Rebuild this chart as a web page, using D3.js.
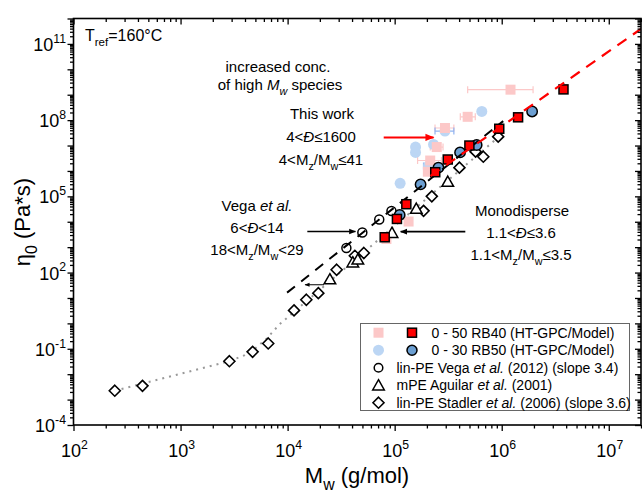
<!DOCTYPE html>
<html><head><meta charset="utf-8">
<script src="https://cdn.jsdelivr.net/npm/d3@7"></script>
<style>body{margin:0;background:#fff}svg{display:block}text{font-family:"Liberation Sans",Arial,sans-serif;fill:#000}</style>
</head><body>
<script>
// ---------- data (Mw in g/mol, eta0 in Pa*s) ----------
const stadlerMw  = [243, 441, 2858, 4710, 6590, 11480, 14960, 19360, 28710, 42460, 51520, 186200, 222300, 402700, 570200, 673000, 926800];
const stadlerEta = [2.24e-3, 3.47e-3, 0.0324, 0.0759, 0.162, 3.24, 8.51, 15.5, 129, 457, 589, 26900, 1.0e5, 1.35e6, 5.75e6, 3.63e6, 2.24e7];
const stadlerFitMw  = [243, 2858, 3981, 5012, 6310, 8433, 1.0e6];
const stadlerFitEta = [2.24e-3, 0.0324, 0.0562, 0.105, 0.24, 0.933, 2.75e7];

const vegaMw  = [35400, 49890, 71780, 93330];
const vegaEta = [933, 3800, 12300, 26300];
const vegaFitMw  = [9886, 1.033e6];
const vegaFitEta = [16.2, 9.12e7];

const aguilarMw  = [24830, 40640, 45290, 94410, 159200, 313300];
const aguilarEta = [52.5, 245, 316, 3550, 31600, 363000];

const rb40ModelMw  = [80720, 105000, 128500, 239300, 313300, 498900, 948400, 1.422e6, 3.776e6];
const rb40ModelEta = [2455, 12900, 49000, 891000, 2.82e6, 1.0e7, 4.57e7, 1.29e8, 1.62e9];
const rb40FitMw  = [216300, 2.0e7];
const rb40FitEta = [6.31e5, 3.9e11];

const rb50ModelMw  = [111400, 174600, 256400, 408300, 583400, 1.923e6];
const rb50ModelEta = [18600, 295000, 1.35e6, 5.37e6, 1.05e7, 2.19e8];

const rb40GpcMw   = [1.208e6, 480800, 295100, 247200, 214800, 204200, 134900, 83750];
const rb40GpcEta  = [1.58e9, 1.35e8, 4.9e7, 8.71e6, 2.57e6, 9.33e5, 10200, 2090];
const rb40GpcMwLo = [480800, 410200, 238200, 215000, 163700, null, null, null];
const rb40GpcMwHi = [1.963e6, 566200, 357300, 283000, 273500, null, null, null];

const rb50GpcMw   = [651600, 295100, 230700, 156700, 156700, 112500, 207000];
const rb50GpcEta  = [2.19e8, 3.72e7, 1.10e7, 8.7e6, 5.37e6, 324000, 1.58e6];
const rb50GpcMwLo = [null, 238200, null, null, null, null, 186000];
const rb50GpcMwHi = [null, 357300, null, null, null, null, 234000];

const xMajorTicks = [1e2, 1e3, 1e4, 1e5, 1e6, 1e7];
const xTickExp = ["2", "3", "4", "5", "6", "7"];
const yLabelTicks = [1e-4, 1e-1, 1e2, 1e5, 1e8, 1e11];
const yTickExp = ["-4", "-1", "2", "5", "8", "11"];

// annotation arrows [Mw1, Mw2, eta] (from -> to)
const arrowRed   = [79000, 230700, 2.09e7];
const arrowVega  = [15280, 43050, 4120];
const arrowMono  = [457000, 113800, 4070];
const arrowSmall = [21880, 14560, 33.1];

const legendLabels = [
  [["0 - 50 RB40 (HT-GPC/Model)"]],
  [["0 - 30 RB50 (HT-GPC/Model)"]],
  [["lin-PE Vega "], ["et al.", "i"], [" (2012) (slope 3.4)"]],
  [["mPE Aguilar "], ["et al.", "i"], [" (2001)"]],
  [["lin-PE Stadler "], ["et al.", "i"], [" (2006) (slope 3.6)"]]
];

// ---------- drawing ----------
const W = 642, H = 494;
const L = 73.5, R = 641, T = 18.5, B = 425;
const svg = d3.select("body").append("svg").attr("width", W).attr("height", H);
const x = d3.scaleLog().domain([1e2, 2e7]).range([L, R]);
const y = d3.scaleLog().domain([1e-4, 1e12]).range([B, T]);

const LIGHT_RED = "#fcc8c8", LIGHT_BLUE = "#bcd6f4", BLUE = "#6c9fd2";

function rich(sel, parts, size) {
  let cur = 0;
  parts.forEach(p => {
    const t = p[0], st = p[1] || "";
    let target = 0, fs = size;
    if (st.includes("sub")) { target = size * 0.32; fs = size * 0.72; }
    if (st.includes("sup")) { target = -size * 0.45; fs = size * 0.68; }
    const ts = sel.append("tspan").text(t).attr("font-size", fs);
    if (target !== cur) { ts.attr("dy", target - cur); cur = target; }
    if (st.includes("i")) ts.attr("font-style", "italic");
  });
  return sel;
}
function label(xp, yp, parts, size, anchor) {
  const t = svg.append("text").attr("x", xp).attr("y", yp).attr("font-size", size)
    .attr("text-anchor", anchor || "middle");
  return rich(t, parts, size);
}

const clip = svg.append("defs").append("clipPath").attr("id", "c")
  .append("rect").attr("x", L).attr("y", T).attr("width", R - L).attr("height", B - T);
svg.select("defs").append("marker").attr("id", "ah").attr("viewBox", "0 0 10 10")
  .attr("refX", 9).attr("refY", 5).attr("markerWidth", 7).attr("markerHeight", 7)
  .attr("markerUnits", "userSpaceOnUse").attr("orient", "auto")
  .append("path").attr("d", "M0,1L10,5L0,9Z").attr("fill", "#000");
svg.select("defs").append("marker").attr("id", "ahr").attr("viewBox", "0 0 10 10")
  .attr("refX", 9).attr("refY", 5).attr("markerWidth", 12).attr("markerHeight", 9)
  .attr("markerUnits", "userSpaceOnUse").attr("orient", "auto")
  .append("path").attr("d", "M0,1L10,5L0,9Z").attr("fill", "#f00");
svg.select("defs").append("marker").attr("id", "ahs").attr("viewBox", "0 0 10 10")
  .attr("refX", 9).attr("refY", 5).attr("markerWidth", 6).attr("markerHeight", 5)
  .attr("markerUnits", "userSpaceOnUse").attr("orient", "auto")
  .append("path").attr("d", "M0,1L10,5L0,9Z").attr("fill", "#000");

const plot = svg.append("g").attr("clip-path", "url(#c)");
const zip = (a, b) => a.map((v, i) => [v, b[i]]);
const line = d3.line().x(d => x(d[0])).y(d => y(d[1]));

// light (HT-GPC) points with error bars
function errBars(mw, lo, hi, eta, color) {
  mw.forEach((m, i) => {
    if (lo[i] == null) return;
    const yy = y(eta[i]);
    plot.append("line").attr("x1", x(lo[i])).attr("x2", x(hi[i])).attr("y1", yy).attr("y2", yy)
      .attr("stroke", color).attr("stroke-width", 1.2);
    [lo[i], hi[i]].forEach(v => plot.append("line").attr("x1", x(v)).attr("x2", x(v))
      .attr("y1", yy - 3.5).attr("y2", yy + 3.5).attr("stroke", color).attr("stroke-width", 1.2));
  });
}
errBars(rb40GpcMw, rb40GpcMwLo, rb40GpcMwHi, rb40GpcEta, LIGHT_RED);
errBars(rb50GpcMw, rb50GpcMwLo, rb50GpcMwHi, rb50GpcEta, "#8fb3f0");
plot.selectAll(".lb").data(zip(rb50GpcMw, rb50GpcEta)).enter().append("circle")
  .attr("cx", d => x(d[0])).attr("cy", d => y(d[1])).attr("r", 5.5).attr("fill", LIGHT_BLUE);
plot.selectAll(".lr").data(zip(rb40GpcMw, rb40GpcEta)).enter().append("rect")
  .attr("x", d => x(d[0]) - 5).attr("y", d => y(d[1]) - 5).attr("width", 10).attr("height", 10)
  .attr("fill", LIGHT_RED);

// Stadler fit (dotted) and diamonds
plot.append("path").attr("d", line(zip(stadlerFitMw, stadlerFitEta))).attr("fill", "none")
  .attr("stroke", "#999").attr("stroke-width", 2).attr("stroke-dasharray", "2 5");
const diamond = "M0,-5.5L5.5,0L0,5.5L-5.5,0Z";
const tri = "M0,-6L5.8,4.2L-5.8,4.2Z";
plot.selectAll(".di").data(zip(stadlerMw, stadlerEta)).enter().append("path")
  .attr("d", diamond).attr("transform", d => `translate(${x(d[0])},${y(d[1])})`)
  .attr("fill", "#fff").attr("stroke", "#000").attr("stroke-width", 1.6);
plot.selectAll(".tr").data(zip(aguilarMw, aguilarEta)).enter().append("path")
  .attr("d", tri).attr("transform", d => `translate(${x(d[0])},${y(d[1])})`)
  .attr("fill", "#fff").attr("stroke", "#000").attr("stroke-width", 1.5);
plot.selectAll(".vc").data(zip(vegaMw, vegaEta)).enter().append("circle")
  .attr("cx", d => x(d[0])).attr("cy", d => y(d[1])).attr("r", 4.5)
  .attr("fill", "#fff").attr("stroke", "#000").attr("stroke-width", 1.5);
// model points
plot.selectAll(".bc").data(zip(rb50ModelMw, rb50ModelEta)).enter().append("circle")
  .attr("cx", d => x(d[0])).attr("cy", d => y(d[1])).attr("r", 5.2)
  .attr("fill", BLUE).attr("stroke", "#000").attr("stroke-width", 1.5);
plot.append("path").attr("d", line(zip(vegaFitMw, vegaFitEta))).attr("fill", "none")
  .attr("stroke", "#000").attr("stroke-width", 2).attr("stroke-dasharray", "10 8");
plot.selectAll(".rs").data(zip(rb40ModelMw, rb40ModelEta)).enter().append("rect")
  .attr("x", d => x(d[0]) - 4.5).attr("y", d => y(d[1]) - 4.5).attr("width", 9).attr("height", 9)
  .attr("fill", "#f00").attr("stroke", "#000").attr("stroke-width", 1.5);
plot.append("path").attr("d", line(zip(rb40FitMw, rb40FitEta))).attr("fill", "none")
  .attr("stroke", "#f00").attr("stroke-width", 2.2).attr("stroke-dasharray", "11 8");

// arrows
function arrow(a, color, marker, w) {
  svg.append("line").attr("x1", x(a[0])).attr("x2", x(a[1])).attr("y1", y(a[2])).attr("y2", y(a[2]))
    .attr("stroke", color).attr("stroke-width", w).attr("marker-end", `url(#${marker})`);
}
arrow(arrowRed, "#f00", "ahr", 2);
arrow(arrowVega, "#000", "ah", 1.6);
arrow(arrowMono, "#000", "ah", 1.6);
arrow(arrowSmall, "#000", "ahs", 1);

// ---------- axes ----------
const decades = d3.range(-4, 13).map(e => Math.pow(10, e));
const yMinor = [];
d3.range(-4, 12).forEach(e => d3.range(2, 10).forEach(k => yMinor.push(k * Math.pow(10, e))));
const xDec = d3.range(2, 8).map(e => Math.pow(10, e));
const xMinor = [];
d3.range(2, 8).forEach(e => d3.range(2, 10).forEach(k => { const v = k * Math.pow(10, e); if (v <= 2e7) xMinor.push(v); }));

function ax(gen, vals, size, tx, ty) {
  const g = svg.append("g").attr("transform", `translate(${tx},${ty})`)
    .call(gen.tickValues(vals).tickSize(size).tickFormat(""));
  g.select(".domain").remove();
  g.selectAll("line").attr("stroke", "#000").attr("stroke-width", 1.3);
}
ax(d3.axisBottom(x), xDec, 6, 0, B);
ax(d3.axisBottom(x), xMinor, 3.5, 0, B);
ax(d3.axisBottom(x), xDec, 6, 0, T);
ax(d3.axisBottom(x), xMinor, 3.5, 0, T);
ax(d3.axisLeft(y), decades, 6, L, 0);
ax(d3.axisLeft(y), yMinor, 3.5, L, 0);
ax(d3.axisLeft(y), decades, 6, R, 0);
ax(d3.axisLeft(y), yMinor, 3.5, R, 0);
svg.append("rect").attr("x", L).attr("y", T).attr("width", R - L).attr("height", B - T)
  .attr("fill", "none").attr("stroke", "#000").attr("stroke-width", 1.6);

xMajorTicks.forEach((v, i) => label(x(v) + 1, 457, [["10"], [xTickExp[i], "sup"]], 18));
yLabelTicks.forEach((v, i) => label(66, y(v) + 7, [["10"], [yTickExp[i], "sup"]], 18, "end"));

label(357, 483, [["M"], ["w", "sub"], [" (g/mol)"]], 22);
const yt = svg.append("text").attr("transform", "translate(30,222) rotate(-90)")
  .attr("text-anchor", "middle").attr("font-size", 22);
rich(yt, [["η"], ["0", "sub"], [" (Pa*s)"]], 22);

// ---------- annotations ----------
label(85, 41, [["T"], ["ref", "sub"], ["=160°C"]], 16, "start");
label(278, 72, [["increased conc."]], 15);
label(280, 90, [["of high "], ["M", "i"], ["w", "isub"], [" species"]], 15);
label(322, 119, [["This work"]], 15);
label(321, 142, [["4<"], ["Đ", "i"], ["≤1600"]], 15);
label(321, 165, [["4<M"], ["z", "sub"], ["/M"], ["w", "sub"], ["≤41"]], 15);
label(257, 211, [["Vega "], ["et al.", "i"]], 15);
label(257, 233, [["6<"], ["Đ", "i"], ["<14"]], 15);
label(257, 255, [["18<M"], ["z", "sub"], ["/M"], ["w", "sub"], ["<29"]], 15);
label(522, 216, [["Monodisperse"]], 15);
label(521, 238, [["1.1<"], ["Đ", "i"], ["≤3.6"]], 15);
label(521, 260, [["1.1<M"], ["z", "sub"], ["/M"], ["w", "sub"], ["≤3.5"]], 15);

// ---------- legend ----------
const lg = svg.append("g");
lg.append("rect").attr("x", 360.5).attr("y", 323.5).attr("width", 269).attr("height", 87)
  .attr("fill", "#fff").attr("stroke", "#666").attr("stroke-width", 1);
const rowY = [332.7, 350.2, 367.7, 385.2, 402.7];
lg.append("rect").attr("x", 373.5).attr("y", rowY[0] - 5).attr("width", 10).attr("height", 10).attr("fill", LIGHT_RED);
lg.append("rect").attr("x", 407.5).attr("y", rowY[0] - 4.5).attr("width", 9).attr("height", 9)
  .attr("fill", "#f00").attr("stroke", "#000").attr("stroke-width", 1.5);
lg.append("circle").attr("cx", 378.5).attr("cy", rowY[1]).attr("r", 5.5).attr("fill", LIGHT_BLUE);
lg.append("circle").attr("cx", 412).attr("cy", rowY[1]).attr("r", 5).attr("fill", BLUE)
  .attr("stroke", "#000").attr("stroke-width", 1.5);
lg.append("circle").attr("cx", 378.5).attr("cy", rowY[2]).attr("r", 4.3).attr("fill", "#fff")
  .attr("stroke", "#000").attr("stroke-width", 1.5);
lg.append("path").attr("d", tri).attr("transform", `translate(378.5,${rowY[3] + 0.5})`)
  .attr("fill", "#fff").attr("stroke", "#000").attr("stroke-width", 1.5);
lg.append("path").attr("d", diamond).attr("transform", `translate(378.5,${rowY[4]})`)
  .attr("fill", "#fff").attr("stroke", "#000").attr("stroke-width", 1.6);
legendLabels.forEach((parts, i) => label(i < 2 ? 431.5 : 396.5, rowY[i] + 5, parts, 14, "start"));
</script>
</body></html>
